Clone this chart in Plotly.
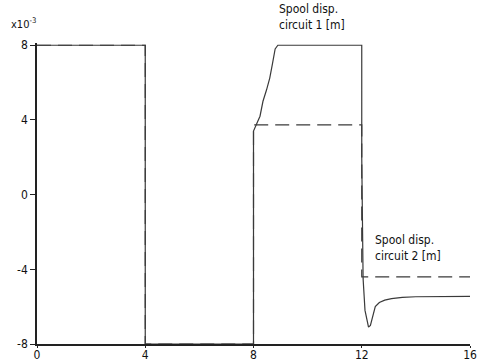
import plotly.graph_objects as go

# Data (time in s, displacement in 1e-3 m)
c1_x = [0, 4, 4, 8, 8, 8.07, 8.15, 8.24, 8.35, 8.48, 8.6, 8.7, 8.8, 8.9, 12.0, 12.0, 12.05, 12.12, 12.2, 12.25, 12.32, 12.4, 12.5, 12.65, 12.85, 13.1, 13.5, 14.0, 15.0, 16.0]
c1_y = [8, 8, -8, -8, 3.4, 3.68, 3.9, 4.2, 5.0, 5.6, 6.24, 7.0, 7.8, 8, 8, 2.0, -4.5, -6.2, -6.9, -7.1, -7.0, -6.5, -6.0, -5.78, -5.65, -5.57, -5.5, -5.47, -5.45, -5.45]

c2_x = [0, 4, 4, 8, 8, 12, 12, 16]
c2_y = [8, 8, -8, -8, 3.73, 3.73, -4.41, -4.41]

x_ticks = [0, 4, 8, 12, 16]
y_ticks = [-8, -4, 0, 4, 8]

FONT = "DejaVu Sans Condensed, Liberation Sans Narrow, sans-serif"

fig = go.Figure()
fig.add_trace(go.Scatter(x=c1_x, y=c1_y, mode="lines",
                         line=dict(color="#3a3a3a", width=1.2),
                         name="Spool disp. circuit 1 [m]"))
fig.add_trace(go.Scatter(x=c2_x, y=c2_y, mode="lines",
                         line=dict(color="#3a3a3a", width=1.2, dash="14px,7px"),
                         name="Spool disp. circuit 2 [m]"))

fig.update_layout(
    width=478, height=361,
    margin=dict(l=37, r=8, t=43, b=17),
    paper_bgcolor="white", plot_bgcolor="white",
    showlegend=False,
    font=dict(family=FONT, size=12, color="#111"),
    xaxis=dict(range=[0, 16], tickvals=x_ticks, ticktext=[str(v) for v in x_ticks],
               automargin=False, ticklabelstandoff=-3,
               showgrid=False, zeroline=False, showline=True, linecolor="#222",
               linewidth=1.5, ticks="outside", ticklen=2, tickcolor="#222",
               tickfont=dict(family=FONT, size=12, color="#111")),
    yaxis=dict(range=[-8, 8.12], tickvals=y_ticks, ticktext=[str(v) for v in y_ticks],
               automargin=False,
               showgrid=False, zeroline=False, showline=True, linecolor="#222",
               linewidth=1.5, ticks="outside", ticklen=5, tickcolor="#222",
               tickfont=dict(family=FONT, size=12, color="#111")),
    annotations=[
        dict(text="x10<sup>-3</sup>", xref="paper", yref="paper", x=-0.064, y=1.0,
             yshift=10,
             xanchor="left", yanchor="bottom", showarrow=False,
             font=dict(family=FONT, size=11, color="#111")),
        dict(text="Spool disp.<br>circuit 1 [m]", xref="x", yref="paper", x=8.85, y=1.0,
             yshift=9,
             xanchor="left", yanchor="bottom", showarrow=False, align="left",
             font=dict(family=FONT, size=12, color="#111")),
        dict(text="Spool disp.<br>circuit 2 [m]", xref="x", yref="y", x=12.4, y=-3.75,
             xanchor="left", yanchor="bottom", showarrow=False, align="left",
             font=dict(family=FONT, size=12, color="#111")),
    ],
)

fig.write_html("out.html")
